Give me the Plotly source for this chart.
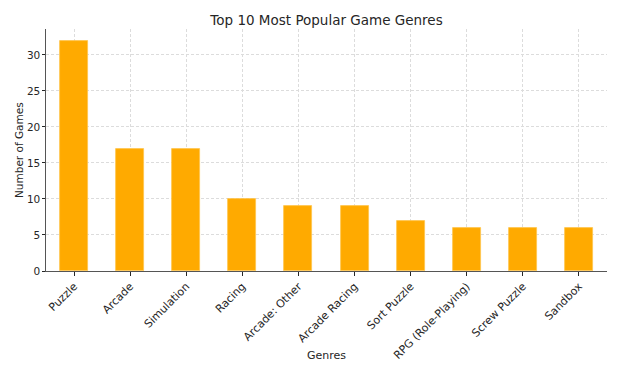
import plotly.graph_objects as go

genres = ["Puzzle", "Arcade", "Simulation", "Racing", "Arcade: Other",
          "Arcade Racing", "Sort Puzzle", "RPG (Role-Playing)", "Screw Puzzle", "Sandbox"]
counts = [32, 17, 17, 10, 9, 9, 7, 6, 6, 6]
y_ticks = [0, 5, 10, 15, 20, 25, 30]

FONT = "DejaVu Sans"
TXT = "#262626"

fig = go.Figure(go.Bar(
    x=list(range(len(genres))), y=counts, width=0.5,
    marker=dict(color="#FFAA00", line=dict(color="#FFC44D", width=0.8)),
))

fig.update_layout(
    width=641, height=376,
    margin=dict(l=46, r=34, t=29, b=105, autoexpand=False),
    paper_bgcolor="white", plot_bgcolor="white",
    font=dict(family=FONT, size=11, color=TXT),
    title=dict(text="Top 10 Most Popular Game Genres", x=0.5, xref="paper",
               y=1 - 20 / 376, yref="container", yanchor="middle",
               font=dict(size=13.5, color=TXT)),
    showlegend=False,
    bargap=0,
    annotations=[
        dict(text="Genres", xref="paper", yref="paper", x=0.5,
             y=-(355 - 271) / 242, yanchor="middle", showarrow=False,
             font=dict(size=11, color=TXT)),
        dict(text="Number of Games", xref="paper", yref="paper",
             x=-(46 - 19) / 561, y=0.5, xanchor="center", yanchor="middle",
             textangle=-90, showarrow=False, font=dict(size=10.5, color=TXT)),
    ],
)
fig.update_xaxes(
    automargin=False,
    range=[-0.5, len(genres) - 0.5],
    tickmode="array", tickvals=list(range(len(genres))), ticktext=genres,
    tickangle=-45, ticks="outside", ticklen=3.5, tickcolor=TXT,
    showline=True, linecolor="#555555", linewidth=1.2,
    showgrid=True, gridcolor="#dcdcdc", griddash="3px,2px", gridwidth=0.7,
    zeroline=False,
)
fig.update_yaxes(
    automargin=False,
    range=[0, 33.6],
    tickmode="array", tickvals=y_ticks,
    ticks="outside", ticklen=2.5, tickcolor=TXT,
    tickfont=dict(size=10.5),
    showline=True, linecolor="#555555", linewidth=1.2,
    showgrid=True, gridcolor="#dcdcdc", griddash="3px,2px", gridwidth=0.7,
    zeroline=False,
)

fig.write_html("out.html", config={"displayModeBar": False},
               post_script="document.body.style.margin='0';document.body.style.overflow='hidden';")
